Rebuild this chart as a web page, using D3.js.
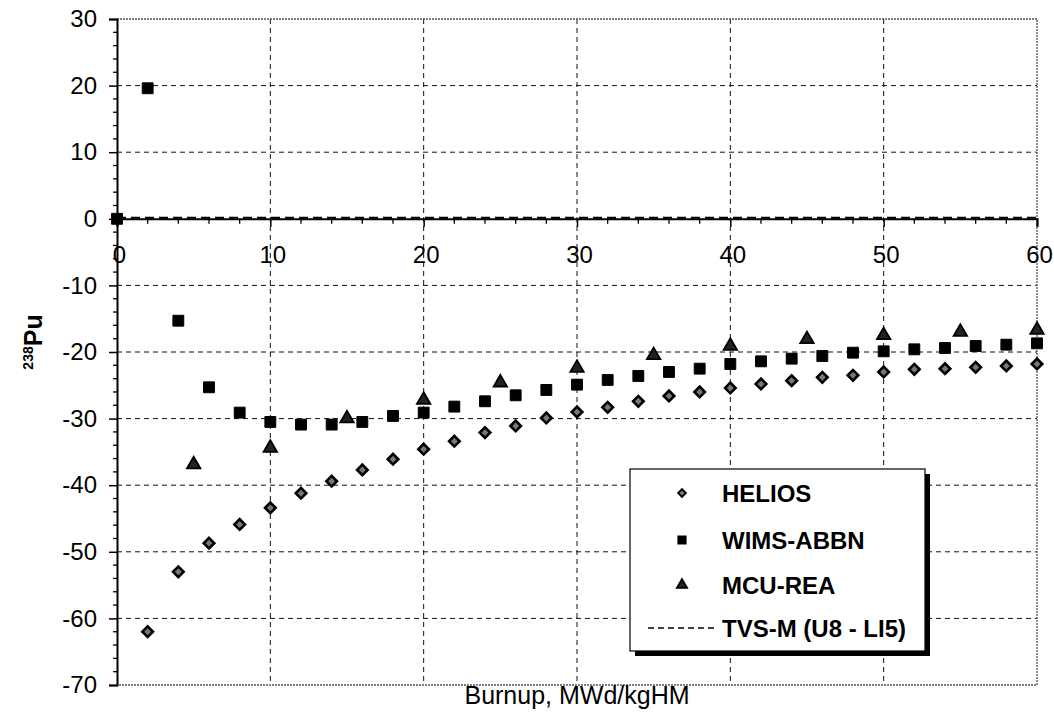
<!DOCTYPE html>
<html>
<head>
<meta charset="utf-8">
<script src="https://cdn.jsdelivr.net/npm/d3@7"></script>
<style>
  body { margin: 0; background: #fff; }
  svg { display: block; font-family: "Liberation Sans", Arial, sans-serif; }
</style>
</head>
<body>
<svg id="chart" width="1054" height="714"></svg>
<script>
// burnup points, MWd/kgHM
var heliosX = [2, 4, 6, 8, 10, 12, 14, 16, 18, 20, 22, 24, 26, 28, 30, 32, 34, 36, 38, 40, 42, 44, 46, 48, 50, 52, 54, 56, 58, 60];
var heliosY = [-62.0, -53.0, -48.7, -45.9, -43.4, -41.2, -39.4, -37.7, -36.1, -34.6, -33.4, -32.1, -31.1, -29.9, -29.0, -28.3, -27.4, -26.6, -26.0, -25.4, -24.8, -24.3, -23.8, -23.5, -23.0, -22.6, -22.5, -22.3, -22.1, -21.8];

var wimsX = [0, 2, 4, 6, 8, 10, 12, 14, 16, 18, 20, 22, 24, 26, 28, 30, 32, 34, 36, 38, 40, 42, 44, 46, 48, 50, 52, 54, 56, 58, 60];
var wimsY = [0, 19.6, -15.3, -25.3, -29.1, -30.5, -30.9, -30.9, -30.5, -29.6, -29.1, -28.2, -27.4, -26.5, -25.7, -24.9, -24.2, -23.6, -23.0, -22.5, -21.8, -21.4, -21.0, -20.6, -20.1, -19.9, -19.6, -19.4, -19.1, -18.9, -18.7];

var mcuX = [5, 10, 15, 20, 25, 30, 35, 40, 45, 50, 55, 60];
var mcuY = [-36.9, -34.4, -30.0, -27.2, -24.6, -22.4, -20.5, -19.1, -18.1, -17.5, -17.0, -16.7];

var tvsX = [0, 10, 20, 30, 40, 50, 60];
var tvsY = [0, 0, 0, 0, 0, 0, 0];

var xTicks = [0, 10, 20, 30, 40, 50, 60];
var yTicks = [30, 20, 10, 0, -10, -20, -30, -40, -50, -60, -70];
var legendNames = ["HELIOS", "WIMS-ABBN", "MCU-REA", "TVS-M (U8 - LI5)"];

var svg = d3.select("#chart");
var plotLeft = 117, plotRight = 1037, plotTop = 19, plotBottom = 685;

var x = d3.scaleLinear().domain([0, 60]).range([plotLeft, plotRight]);
var y = d3.scaleLinear().domain([-70, 30]).range([plotBottom, plotTop]);

// grid
var grid = svg.append("g");
grid.selectAll("line.h").data(yTicks.filter(function (d) { return d !== 0 && d !== 30 && d !== -70; }))
    .enter().append("line")
    .attr("x1", plotLeft).attr("x2", plotRight)
    .attr("y1", function (d) { return y(d); }).attr("y2", function (d) { return y(d); })
    .attr("stroke", "#111").attr("stroke-width", 1).attr("stroke-dasharray", "5,4");
grid.selectAll("line.v").data(xTicks.filter(function (d) { return d !== 0 && d !== 60; }))
    .enter().append("line")
    .attr("x1", function (d) { return x(d); }).attr("x2", function (d) { return x(d); })
    .attr("y1", plotTop).attr("y2", plotBottom)
    .attr("stroke", "#111").attr("stroke-width", 1).attr("stroke-dasharray", "5,4");

// frame: top, right, bottom dotted grey
svg.append("path")
    .attr("d", "M" + plotLeft + "," + plotTop + "H" + plotRight + "V" + plotBottom + "H" + plotLeft)
    .attr("fill", "none").attr("stroke", "#555").attr("stroke-width", 1.3)
    .attr("stroke-dasharray", "2,1");

// y axis
var yAxis = d3.axisLeft(y).tickValues(yTicks).tickSize(8).tickPadding(12).tickFormat(function (d) { return String(d); });
var yG = svg.append("g").attr("transform", "translate(" + plotLeft + ",0)").call(yAxis);
yG.select(".domain").attr("stroke", "#000").attr("stroke-width", 2);
yG.selectAll(".tick line").attr("stroke", "#000").attr("stroke-width", 1.5);
yG.selectAll(".tick text").attr("font-size", 24).attr("fill", "#000");
yG.append("g").selectAll("line").data(d3.range(-70, 31, 2).filter(function (d) { return d % 10 !== 0; }))
    .enter().append("line")
    .attr("x1", -4).attr("x2", 1)
    .attr("y1", function (d) { return y(d); }).attr("y2", function (d) { return y(d); })
    .attr("stroke", "#000").attr("stroke-width", 1.3);

// x axis at zero
var xAxis = d3.axisBottom(x).tickValues(xTicks).tickSize(8).tickPadding(19).tickFormat(function (d) { return String(d); });
var xG = svg.append("g").attr("transform", "translate(0," + y(0) + ")").call(xAxis);
xG.select(".domain").attr("stroke", "#000").attr("stroke-width", 2);
xG.selectAll(".tick line").attr("stroke", "#000").attr("stroke-width", 1.5);
xG.selectAll(".tick text").attr("font-size", 24).attr("fill", "#000").attr("dx", 2);
xG.append("g").selectAll("line").data(d3.range(0, 61, 2).filter(function (d) { return d % 10 !== 0; }))
    .enter().append("line")
    .attr("x1", function (d) { return x(d); }).attr("x2", function (d) { return x(d); })
    .attr("y1", 0).attr("y2", 5)
    .attr("stroke", "#000").attr("stroke-width", 1.3);

// TVS-M dashed line
svg.append("path")
    .datum(d3.zip(tvsX, tvsY))
    .attr("d", d3.line().x(function (d) { return x(d[0]); }).y(function (d) { return y(d[1]) - 1; }))
    .attr("fill", "none").attr("stroke", "#000").attr("stroke-width", 2)
    .attr("stroke-dasharray", "9,5");

var diamond = d3.symbol().type(d3.symbolSquare).size(56);
var square = d3.symbol().type(d3.symbolSquare).size(118);
var triangle = d3.symbol().type(d3.symbolTriangle).size(78);

function drawMarks(xs, ys, sym, fill, width, rot) {
    svg.append("g").selectAll("path").data(d3.zip(xs, ys)).enter().append("path")
        .attr("d", sym)
        .attr("transform", function (d) { return "translate(" + x(d[0]) + "," + y(d[1]) + ") rotate(" + rot + ")"; })
        .attr("fill", fill).attr("stroke", "#000").attr("stroke-width", width);
}
drawMarks(heliosX, heliosY, diamond, "#777", 2.6, 45);
drawMarks(wimsX, wimsY, square, "#000", 1, 0);
drawMarks(mcuX, mcuY, triangle, "#222", 1.8, 0);

// axis titles
svg.append("text").attr("x", (plotLeft + plotRight) / 2).attr("y", 704)
    .attr("text-anchor", "middle").attr("font-size", 25).text("Burnup, MWd/kgHM");
var yt = svg.append("text").attr("transform", "translate(42,342) rotate(-90)")
    .attr("text-anchor", "middle").attr("font-weight", "bold").attr("font-size", 25);
yt.append("tspan").attr("font-size", 14).attr("dy", -9).text("238");
yt.append("tspan").attr("dy", 9).text("Pu");

// legend
var lg = svg.append("g").attr("transform", "translate(630,469)");
lg.append("rect").attr("x", 5).attr("y", 5).attr("width", 295).attr("height", 182).attr("fill", "#000");
lg.append("rect").attr("width", 295).attr("height", 182).attr("fill", "#fff").attr("stroke", "#000").attr("stroke-width", 1.2);
var rows = [24, 71, 116, 159];
var legendSyms = [d3.symbolSquare, d3.symbolSquare, d3.symbolTriangle];
var legendSizes = [30, 55, 45];
var legendRot = [45, 0, 0];
var fills = ["#777", "#000", "#222"];
legendNames.forEach(function (name, i) {
    if (i < 3) {
        lg.append("path").attr("d", d3.symbol().type(legendSyms[i]).size(legendSizes[i]))
            .attr("transform", "translate(52," + rows[i] + ") rotate(" + legendRot[i] + ")")
            .attr("fill", fills[i]).attr("stroke", "#000").attr("stroke-width", 1.8);
    } else {
        lg.append("line").attr("x1", 18).attr("x2", 86).attr("y1", rows[i]).attr("y2", rows[i])
            .attr("stroke", "#000").attr("stroke-width", 1.3).attr("stroke-dasharray", "6,4");
    }
    lg.append("text").attr("x", 92).attr("y", rows[i] + 9)
        .attr("font-size", 24).attr("font-weight", "bold").text(name);
});
</script>
</body>
</html>
